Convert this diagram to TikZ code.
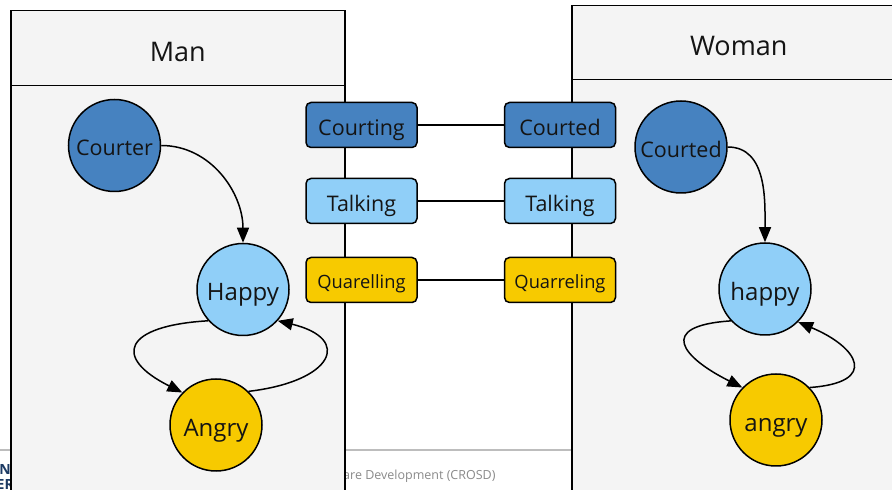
\documentclass[tikz,border=0pt]{standalone}
\usepackage{fontspec}
\setmainfont{Open Sans}
\usetikzlibrary{arrows.meta}
\definecolor{dblue}{HTML}{4682C0}
\definecolor{lblue}{HTML}{90CFF8}
\definecolor{ylw}{HTML}{F7CA00}
\definecolor{panel}{HTML}{F4F4F4}
\definecolor{txt}{HTML}{141414}
\definecolor{navy}{HTML}{1C3A63}
\definecolor{footgray}{HTML}{8A8A8A}
\definecolor{footline}{HTML}{BDBDBD}
\tikzset{
  fs/.style={font=\fontsize{#1}{#1}\selectfont, text height=0.95*#1 pt, text depth=0pt},
  lane/.style={draw=black, line width=1.5pt, fill=panel, anchor=north west, inner sep=0pt},
  lanehead/.style={lane, fs=27, text=txt},
  state/.style={circle, draw=black, line width=1.5pt, minimum size=92pt, inner sep=0pt, text=txt},
  msgbox/.style={rectangle, rounded corners=5pt, draw=black, line width=1.5pt, minimum width=111pt, minimum height=45pt, inner sep=0pt, text=txt},
  trans/.style={line width=1.5pt, -{Triangle[length=15pt,width=12pt]}},
  link/.style={line width=1.6pt}
}
\begin{document}
\begin{tikzpicture}[x=1pt,y=1pt]
\useasboundingbox (0,0) rectangle (892,490);
\clip (0,0) rectangle (892,490);
\fill[white] (0,0) rectangle (892,490);
% footer remnants
\coordinate (fl0) at (0,40);
\coordinate (fl1) at (571,40);
\draw[footline, line width=1.5pt] (fl0) -- (fl1);
\node[anchor=west, inner sep=0pt, text=footgray, font=\fontsize{12.5}{14}\selectfont] (foot) at (343,14) {are Development (CROSD)};
\node[anchor=east, inner sep=0pt, text=navy, font=\bfseries\fontsize{14}{16}\selectfont] (logoA) at (11,20) {N};
\node[anchor=east, inner sep=0pt, text=navy, font=\bfseries\fontsize{14}{16}\selectfont] (logoB) at (14,5) {ER};
% swimlanes
\node[lane, minimum width=334pt, minimum height=415pt] (manbody) at (10,405) {};
\node[lanehead, minimum width=334pt, minimum height=75pt] (manhead) at (10,480) {Man};
\node[lane, minimum width=334pt, minimum height=421pt] (womanbody) at (571,411) {};
\node[lanehead, minimum width=334pt, minimum height=74pt] (womanhead) at (571,485) {Woman};
% message boxes
\node[msgbox, fill=dblue, fs=21.5] (courting) at (361.5,365) {Courting};
\node[msgbox, fill=dblue, fs=21.5] (courtedb) at (560,365) {Courted};
\node[msgbox, fill=lblue, fs=21.5] (talkm) at (361.5,289) {Talking};
\node[msgbox, fill=lblue, fs=21.5] (talkw) at (560,289) {Talking};
\node[msgbox, fill=ylw, fs=18.3] (quarm) at (361.5,210) {Quarelling};
\node[msgbox, fill=ylw, fs=18.3] (quarw) at (560,210) {Quarreling};
\draw[link] (courting) -- (courtedb);
\draw[link] (talkm) -- (talkw);
\draw[link] (quarm) -- (quarw);
% man states
\node[state, fill=dblue, fs=21.5] (courter) at (114.5,344.5) {Courter};
\node[state, fill=lblue, fs=24] (happy) at (243,200.5) {Happy};
\node[state, fill=ylw, fs=24] (angry) at (216,65) {Angry};
% woman states
\node[state, fill=dblue, fs=21.5] (courted) at (681,343) {Courted};
\node[state, fill=lblue, fs=24] (happyw) at (765,201) {happy};
\node[state, fill=ylw, fs=24] (angryw) at (776,70) {angry};
% transitions
\draw[trans] (courter.east) to[out=0,in=90] (happy.north);
\draw[trans] (happy.222) .. controls +(-85,-5) and +(-70,35) .. (angry.136);
\draw[trans] (angry.46) .. controls +(85,10) and +(75,-18) .. (happy.318);
\draw[trans] (courted.east) to[out=0,in=90] (happyw.north);
\draw[trans] (happyw.223) .. controls +(-75,-5) and +(-60,30) .. (angryw.136);
\draw[trans] (angryw.44) .. controls +(70,5) and +(60,-25) .. (happyw.315);
\end{tikzpicture}
\end{document}
